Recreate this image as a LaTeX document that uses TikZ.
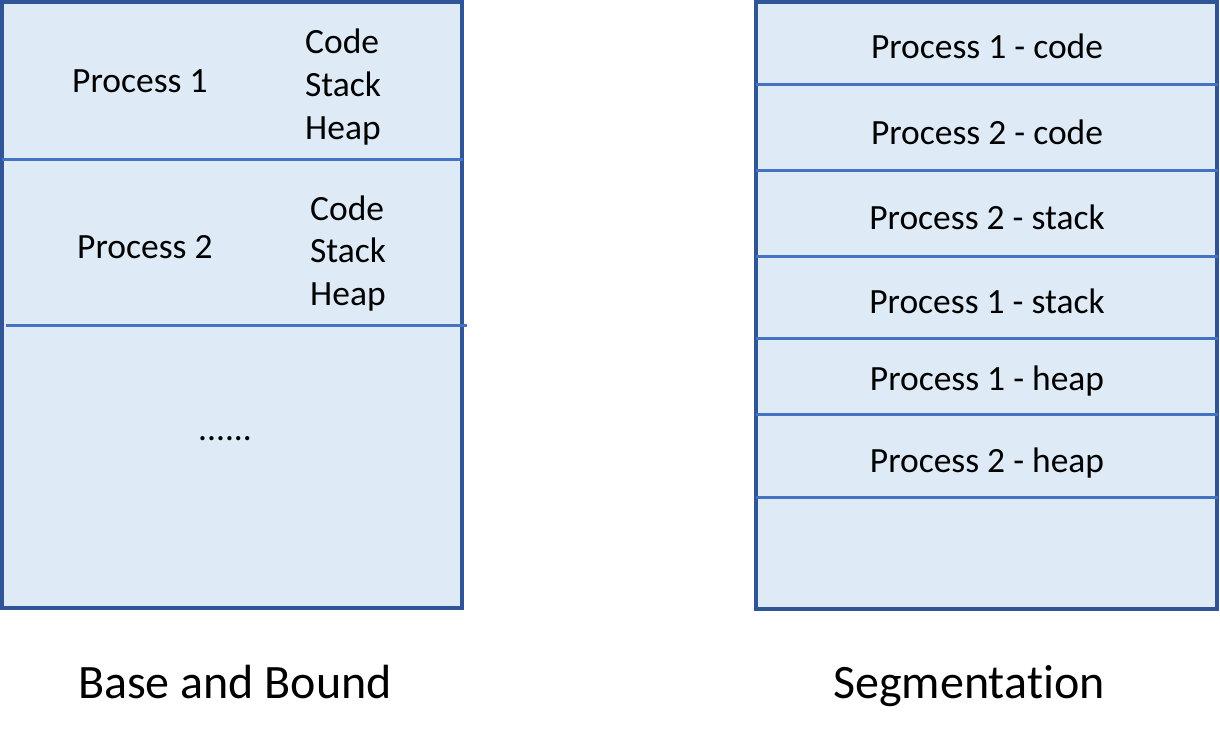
\documentclass[tikz,border=0pt]{standalone}
\usepackage{fontspec}
\setmainfont[Ligatures=NoCommon]{Carlito}
\definecolor{borderblue}{HTML}{2F5597}
\definecolor{divblue}{HTML}{4472C4}
\definecolor{cellfill}{HTML}{DEEBF7}
\tikzset{
  membox/.style={draw=borderblue, fill=cellfill, line width=4pt},
  divider/.style={draw=divblue, line width=3pt},
  lbl/.style={inner sep=0pt, font=\fontsize{35.5}{42}\selectfont, text=black},
  captiontext/.style={inner sep=0pt, font=\fontsize{48}{56}\selectfont, text=black}
}
\begin{document}
\begin{tikzpicture}[x=1pt,y=-1pt]
\useasboundingbox (0,0) rectangle (1220,740);
% left box
\draw[membox] (2,2) rectangle (462,608);
\draw[divider] (2,159) -- (463,159);
\draw[divider] (6,325) -- (467,325);
\node[lbl, anchor=base west] (p1) at (72,92) {Process 1};
\node[lbl, anchor=base west] (c1) at (305,53) {Code};
\node[lbl, anchor=base west] (s1) at (305,96) {Stack};
\node[lbl, anchor=base west] (h1) at (305,139) {Heap};
\node[lbl, anchor=base west] (p2) at (77,258) {Process 2};
\node[lbl, anchor=base west] (c2) at (310,220) {Code};
\node[lbl, anchor=base west] (s2) at (310,262) {Stack};
\node[lbl, anchor=base west] (h2) at (310,305) {Heap};
\node[lbl, anchor=base west] (dots) at (198,440) {......};
% right box
\draw[membox] (756,2) rectangle (1217,609);
\foreach \yy in {84,170,256,338,414,497}{
  \draw[divider] (756,\yy) -- (1218,\yy);
}
\node[lbl, anchor=base] (r1) at (987,58) {Process 1 - code};
\node[lbl, anchor=base] (r2) at (987,144) {Process 2 - code};
\node[lbl, anchor=base] (r3) at (987,229) {Process 2 - stack};
\node[lbl, anchor=base] (r4) at (987,313) {Process 1 - stack};
\node[lbl, anchor=base] (r5) at (987,390) {Process 1 - heap};
\node[lbl, anchor=base] (r6) at (987,472) {Process 2 - heap};
% captions
\node[captiontext, anchor=base] (capl) at (235,698) {Base and Bound};
\node[captiontext, anchor=base] (capr) at (969,698) {Segmentation};
\end{tikzpicture}
\end{document}
